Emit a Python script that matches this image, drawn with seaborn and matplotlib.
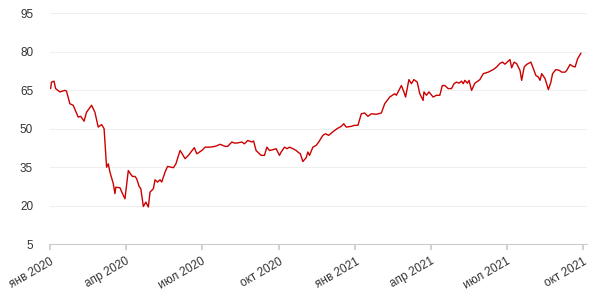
import matplotlib
matplotlib.use("Agg")
import matplotlib.pyplot as plt
import matplotlib.dates as mdates
import pandas as pd
import seaborn as sns

dates = [
    "2020-01-02", "2020-01-03", "2020-01-06", "2020-01-08", "2020-01-13", "2020-01-19",
    "2020-01-21", "2020-01-25", "2020-01-29", "2020-02-04", "2020-02-07", "2020-02-11",
    "2020-02-14", "2020-02-20", "2020-02-24", "2020-02-28", "2020-03-03", "2020-03-06",
    "2020-03-09", "2020-03-11", "2020-03-13", "2020-03-17", "2020-03-19", "2020-03-20",
    "2020-03-25", "2020-03-28", "2020-03-31", "2020-04-04", "2020-04-07", "2020-04-09",
    "2020-04-12", "2020-04-14", "2020-04-17", "2020-04-19", "2020-04-22", "2020-04-25",
    "2020-04-28", "2020-04-30", "2020-05-04", "2020-05-06", "2020-05-09", "2020-05-12",
    "2020-05-14", "2020-05-18", "2020-05-21", "2020-05-25", "2020-05-28", "2020-05-31",
    "2020-06-05", "2020-06-07", "2020-06-11", "2020-06-15", "2020-06-22", "2020-06-25",
    "2020-07-01", "2020-07-05", "2020-07-11", "2020-07-17", "2020-07-23", "2020-07-29",
    "2020-08-01", "2020-08-06", "2020-08-09", "2020-08-12", "2020-08-18", "2020-08-21",
    "2020-08-25", "2020-08-30", "2020-09-01", "2020-09-04", "2020-09-08", "2020-09-10",
    "2020-09-14", "2020-09-17", "2020-09-20", "2020-09-24", "2020-09-28", "2020-10-02",
    "2020-10-04", "2020-10-08", "2020-10-11", "2020-10-14", "2020-10-18", "2020-10-22",
    "2020-10-24", "2020-10-27", "2020-10-30", "2020-11-03", "2020-11-05", "2020-11-07",
    "2020-11-11", "2020-11-15", "2020-11-18", "2020-11-23", "2020-11-26", "2020-11-30",
    "2020-12-05", "2020-12-10", "2020-12-15", "2020-12-18", "2020-12-21", "2020-12-27",
    "2020-12-31", "2021-01-04", "2021-01-08", "2021-01-12", "2021-01-16", "2021-01-20",
    "2021-01-26", "2021-02-01", "2021-02-05", "2021-02-11", "2021-02-17", "2021-02-19",
    "2021-02-25", "2021-02-28", "2021-03-02", "2021-03-06", "2021-03-09", "2021-03-12",
    "2021-03-16", "2021-03-19", "2021-03-23", "2021-03-24", "2021-03-27", "2021-03-30",
    "2021-04-04", "2021-04-08", "2021-04-12", "2021-04-15", "2021-04-18", "2021-04-22",
    "2021-04-26", "2021-04-29", "2021-05-02", "2021-05-05", "2021-05-08", "2021-05-10",
    "2021-05-12", "2021-05-15", "2021-05-17", "2021-05-20", "2021-05-24", "2021-05-30",
    "2021-06-03", "2021-06-09", "2021-06-15", "2021-06-19", "2021-06-23", "2021-06-26",
    "2021-06-29", "2021-07-03", "2021-07-05", "2021-07-07", "2021-07-10", "2021-07-13",
    "2021-07-17", "2021-07-19", "2021-07-22", "2021-07-25", "2021-07-30", "2021-08-02",
    "2021-08-05", "2021-08-08", "2021-08-10", "2021-08-12", "2021-08-16", "2021-08-20",
    "2021-08-23", "2021-08-25", "2021-08-29", "2021-09-02", "2021-09-05", "2021-09-09",
    "2021-09-11", "2021-09-15", "2021-09-18", "2021-09-21", "2021-09-24", "2021-09-27",
    "2021-09-28",
]
prices = [
    65.7, 68.2, 68.6, 65.7, 64.4, 65.0,
    64.7, 59.8, 59.2, 54.6, 54.9, 53.0,
    56.5, 59.2, 56.5, 50.7, 51.7, 50.1,
    35.1, 36.4, 33.2, 28.7, 24.8, 27.3,
    27.1, 24.8, 22.8, 33.8, 32.3, 31.5,
    31.5, 30.6, 27.6, 26.7, 19.8, 21.5,
    19.6, 25.4, 26.7, 30.2, 29.3, 30.2,
    29.3, 33.2, 35.4, 35.1, 34.9, 36.4,
    41.6, 40.6, 38.4, 39.7, 42.7, 40.3,
    41.6, 42.9, 42.9, 43.2, 44.0, 43.2,
    43.2, 44.9, 44.5, 44.5, 44.9, 44.2,
    45.5, 44.9, 45.3, 41.6, 40.3, 39.7,
    39.7, 42.9, 41.6, 41.9, 42.3, 39.7,
    41.0, 42.9, 42.3, 42.9, 42.3, 41.6,
    41.0, 40.3, 37.3, 38.8, 41.0, 39.7,
    42.9, 43.6, 44.9, 47.5, 48.1, 47.5,
    48.9, 50.1, 51.0, 52.0, 50.7, 51.0,
    51.4, 51.4, 55.9, 56.2, 54.9, 55.9,
    55.7, 56.2, 59.8, 62.4, 63.7, 63.1,
    66.9, 64.4, 62.4, 69.2, 67.6, 69.2,
    68.2, 63.7, 61.1, 64.4, 63.1, 64.4,
    62.4, 63.1, 63.1, 66.9, 66.9, 65.7,
    65.7, 67.6, 68.2, 67.8, 68.6, 67.6,
    68.9, 67.8, 68.9, 65.0, 67.8, 69.2,
    71.5, 72.1, 73.1, 74.1, 75.5, 76.0,
    75.2, 76.4, 77.0, 73.8, 76.0, 75.4,
    72.8, 68.9, 74.1, 75.1, 76.0, 73.5,
    70.8, 70.2, 68.9, 71.5, 69.6, 65.3,
    68.2, 71.5, 73.1, 72.8, 72.1, 72.1,
    72.8, 75.1, 74.4, 74.1, 77.3, 79.0,
    79.5,
]
y_ticks = [5, 20, 35, 50, 65, 80, 95]
x_tick_dates = ["2020-01-01", "2020-04-01", "2020-07-01", "2020-10-01",
                "2021-01-01", "2021-04-01", "2021-07-01", "2021-10-01"]
x_tick_labels = ["янв 2020", "апр 2020", "июл 2020", "окт 2020",
                 "янв 2021", "апр 2021", "июл 2021", "окт 2021"]

df = pd.DataFrame({"date": pd.to_datetime(dates), "price": prices})

sns.set_theme(style="white")
plt.rcParams["font.family"] = ["Liberation Sans", "DejaVu Sans"]

fig = plt.figure(figsize=(6.0, 2.96), dpi=100)
ax = fig.add_axes([0.083, 0.174, 0.895, 0.781])

sns.lineplot(data=df, x="date", y="price", ax=ax, color="#cc0000", linewidth=1.0)

ax.set_ylim(5, 95)
ax.set_yticks(y_ticks)
ax.set_xlim(pd.Timestamp("2020-01-01"), pd.Timestamp("2021-10-05"))
ax.set_xticks(mdates.date2num(pd.to_datetime(x_tick_dates)))
ax.set_xticklabels(x_tick_labels, rotation=30, ha="right", rotation_mode="anchor")

ax.grid(axis="y", color="#efefef", linewidth=0.8)
ax.grid(axis="x", visible=False)
for s in ["left", "right", "top"]:
    ax.spines[s].set_visible(False)
ax.spines["bottom"].set_color("#cccccc")
ax.spines["bottom"].set_linewidth(0.8)

ax.tick_params(axis="x", bottom=True, length=4, color="#cccccc", labelsize=8.5,
               labelcolor="#333333", pad=4)
ax.tick_params(axis="y", left=False, labelsize=8.5, labelcolor="#333333", pad=6)
ax.set_xlabel("")
ax.set_ylabel("")

fig.savefig("out.png", dpi=100)
